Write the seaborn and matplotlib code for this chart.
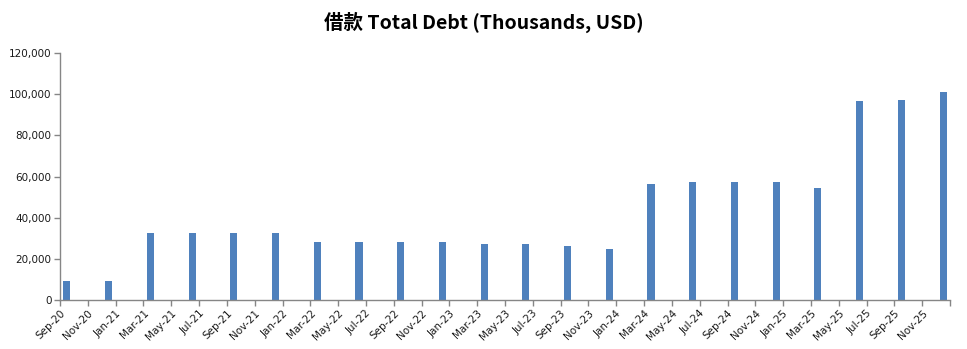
import matplotlib
matplotlib.use("Agg")
import matplotlib.pyplot as plt
import seaborn as sns
import pandas as pd
import numpy as np

# Quarter-end months (index from Sep-20 = 0)
periods = ["Sep-20", "Dec-20", "Mar-21", "Jun-21", "Sep-21", "Dec-21", "Mar-22", "Jun-22",
           "Sep-22", "Dec-22", "Mar-23", "Jun-23", "Sep-23", "Dec-23", "Mar-24", "Jun-24",
           "Sep-24", "Dec-24", "Mar-25", "Jun-25", "Sep-25", "Dec-25"]
month_index = [0, 3, 6, 9, 12, 15, 18, 21, 24, 27, 30, 33, 36, 39, 42, 45, 48, 51, 54, 57, 60, 63]
debt = [9300, 9300, 32700, 32700, 32700, 32700, 28300, 28300, 28300, 28300, 27200, 27200,
        26200, 24800, 56400, 57300, 57300, 57300, 54400, 96700, 97200, 101100]

tick_labels = ["Sep-20", "Nov-20", "Jan-21", "Mar-21", "May-21", "Jul-21", "Sep-21", "Nov-21",
               "Jan-22", "Mar-22", "May-22", "Jul-22", "Sep-22", "Nov-22", "Jan-23", "Mar-23",
               "May-23", "Jul-23", "Sep-23", "Nov-23", "Jan-24", "Mar-24", "May-24", "Jul-24",
               "Sep-24", "Nov-24", "Jan-25", "Mar-25", "May-25", "Jul-25", "Sep-25", "Nov-25"]

sns.set_theme(style="white")
plt.rcParams['font.family'] = ['DejaVu Sans']

df = pd.DataFrame({"pos": [m + 0.5 for m in month_index], "debt": debt})

fig = plt.figure(figsize=(9.67, 3.49), dpi=100)
ax = fig.add_axes([60/967, 49/349, 890/967, 247/349])

sns.barplot(data=df, x="pos", y="debt", native_scale=True, color="#4F81BD",
            saturation=1, width=0.17, ax=ax, linewidth=0)

ax.set_xlim(0, 64)
ax.set_ylim(0, 120000)
ax.set_yticks(np.arange(0, 120001, 20000))
ax.set_yticklabels([f"{v:,}" for v in range(0, 120001, 20000)], fontsize=7.5, color="#1a1a1a")
ax.set_xticks(np.arange(0, 65, 2))
ax.set_xticklabels(tick_labels + [""], rotation=45, ha="right", rotation_mode="anchor",
                   fontsize=7.5, color="#1a1a1a")
ax.set_xlabel("")
ax.set_ylabel("")

for s in ["top", "right"]:
    ax.spines[s].set_visible(False)
for s in ["left", "bottom"]:
    ax.spines[s].set_color("#868686")
    ax.spines[s].set_linewidth(1)
ax.tick_params(axis="both", which="both", direction="out", length=4, width=1,
               color="#868686", bottom=True, left=True, pad=2)
ax.grid(False)

fig.suptitle("借款 Total Debt (Thousands, USD)", fontsize=14, fontweight="bold", color="black",
             family=["Noto Sans CJK SC", "DejaVu Sans"], y=0.965)

fig.savefig("out.png", dpi=100)
